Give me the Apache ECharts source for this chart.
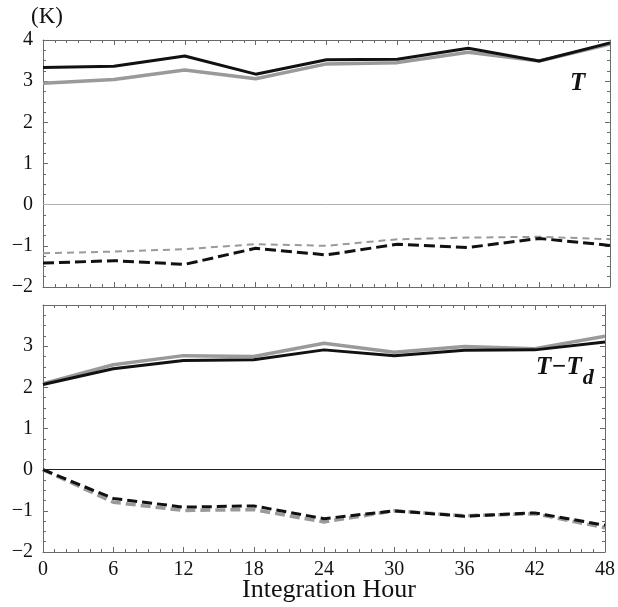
<!DOCTYPE html>
<html>
<head>
<meta charset="utf-8">
<script src="https://cdn.jsdelivr.net/npm/echarts@6/dist/echarts.min.js"></script>
<style>
  html, body { margin: 0; padding: 0; background: #fff; }
  #chart { width: 618px; height: 607px; }
</style>
</head>
<body>
<div id="chart"></div>
<script>
// integration hours
const hours = [0, 6, 12, 18, 24, 30, 36, 42, 48];

// upper panel: T
const tSolidBlack = [3.33, 3.36, 3.61, 3.17, 3.52, 3.53, 3.80, 3.49, 3.93];
const tSolidGrey = [2.95, 3.04, 3.27, 3.06, 3.42, 3.45, 3.70, 3.49, 3.90];
const tDashBlack = [-1.42, -1.36, -1.45, -1.06, -1.22, -0.96, -1.04, -0.82, -0.99];
const tDashGrey = [-1.18, -1.14, -1.08, -0.96, -1.00, -0.84, -0.80, -0.78, -0.84];

// lower panel: T - Td
const dSolidBlack = [2.07, 2.45, 2.65, 2.67, 2.91, 2.77, 2.90, 2.91, 3.10];
const dSolidGrey = [2.09, 2.55, 2.77, 2.75, 3.07, 2.85, 2.99, 2.94, 3.24];
const dDashBlack = [0, -0.70, -0.91, -0.88, -1.19, -1.00, -1.13, -1.05, -1.35];
const dDashGrey = [0, -0.79, -0.99, -0.97, -1.27, -1.00, -1.12, -1.07, -1.41];

const xTicks = hours;
const yTicksTop = [-2, -1, 0, 1, 2, 3, 4];
const yTicksBottom = [-2, -1, 0, 1, 2, 3];

const font = 'Liberation Serif';
const frame = '#6a6a6a';
const greyLine = '#9a9a9a';

const pairs = arr => hours.map((h, i) => [h, arr[i]]);

function xAx(gridIndex, position, showLabel) {
  return {
    type: 'value', gridIndex, position, min: 0, max: 48, interval: 6,
    axisLine: { show: true, onZero: false, lineStyle: { color: frame, width: 1 } },
    axisTick: { show: true, inside: true, length: 5, lineStyle: { color: frame } },
    minorTick: { show: true, splitNumber: 6, length: 3, lineStyle: { color: frame } },
    splitLine: { show: false },
    axisLabel: {
      show: showLabel, color: '#111', fontFamily: font, fontSize: 20, margin: 8,
      formatter: v => xTicks.includes(v) ? String(v) : ''
    }
  };
}

function yAx(gridIndex, position, labels) {
  return {
    type: 'value', gridIndex, position, min: -2, max: 4, interval: 1,
    axisLine: { show: true, onZero: false, lineStyle: { color: frame, width: 1 } },
    axisTick: { show: true, inside: true, length: 5, lineStyle: { color: frame } },
    minorTick: { show: true, splitNumber: 4, length: 3, lineStyle: { color: frame } },
    splitLine: { show: false },
    axisLabel: {
      show: !!labels, color: '#111', fontFamily: font, fontSize: 20, margin: 10,
      formatter: v => (labels && labels.includes(v)) ? (v < 0 ? '\u2212' + (-v) : String(v)) : ''
    }
  };
}

function line(name, xi, yi, data, color, width, dash, z) {
  return {
    name, type: 'line', xAxisIndex: xi, yAxisIndex: yi, data: pairs(data),
    symbol: 'none', z: z,
    lineStyle: { color, width, type: dash || 'solid' }
  };
}

function zeroLine(xi, yi, color) {
  return {
    type: 'line', xAxisIndex: xi, yAxisIndex: yi, data: [], silent: true,
    markLine: {
      silent: true, symbol: 'none', label: { show: false },
      lineStyle: { color, width: 1, type: 'solid' },
      data: [{ yAxis: 0 }]
    }
  };
}

const chart = echarts.init(document.getElementById('chart'));
chart.setOption({
  backgroundColor: '#fff',
  animation: false,
  grid: [
    { left: 43, top: 40, width: 567, height: 247 },
    { left: 43, top: 305, width: 567, height: 247 }
  ],
  xAxis: [
    xAx(0, 'bottom', false),
    xAx(0, 'top', false),
    xAx(1, 'bottom', true),
    xAx(1, 'top', false)
  ],
  yAxis: [
    yAx(0, 'left', yTicksTop),
    yAx(0, 'right', null),
    yAx(1, 'left', yTicksBottom),
    yAx(1, 'right', null)
  ],
  series: [
    zeroLine(0, 0, '#b0b0b0'),
    zeroLine(2, 2, '#222'),
    line('T grey', 0, 0, tSolidGrey, greyLine, 3.5, 'solid', 2),
    line('T black', 0, 0, tSolidBlack, '#111', 3, 'solid', 3),
    line('T dash grey', 0, 0, tDashGrey, greyLine, 2, [7, 5], 2),
    line('T dash black', 0, 0, tDashBlack, '#111', 3, [11, 5], 3),
    line('Td grey', 2, 2, dSolidGrey, greyLine, 3.5, 'solid', 2),
    line('Td black', 2, 2, dSolidBlack, '#111', 3, 'solid', 3),
    line('Td dash grey', 2, 2, dDashGrey, greyLine, 3.5, [10, 5], 2),
    line('Td dash black', 2, 2, dDashBlack, '#111', 3, [10, 5], 3)
  ],
  graphic: [
    { type: 'text', left: 31, top: 5, style: { text: '(K)', fontFamily: font, fontSize: 23, fill: '#111' } },
    { type: 'text', left: 570, top: 71, style: { text: 'T', fontFamily: font, fontSize: 25, fontWeight: 'bold', fontStyle: 'italic', fill: '#111' } },
    {
      type: 'text', left: 536, top: 355,
      style: {
        text: '{m|T\u2212T}{s|d}', fill: '#111',
        rich: {
          m: { fontFamily: font, fontSize: 25, fontWeight: 'bold', fontStyle: 'italic', verticalAlign: 'top' },
          s: { fontFamily: font, fontSize: 22, fontWeight: 'bold', fontStyle: 'italic', padding: [12, 0, 0, 1] }
        }
      }
    },
    { type: 'text', left: 242, top: 577, style: { text: 'Integration Hour', fontFamily: font, fontSize: 26, fill: '#111' } }
  ]
});
</script>
</body>
</html>
